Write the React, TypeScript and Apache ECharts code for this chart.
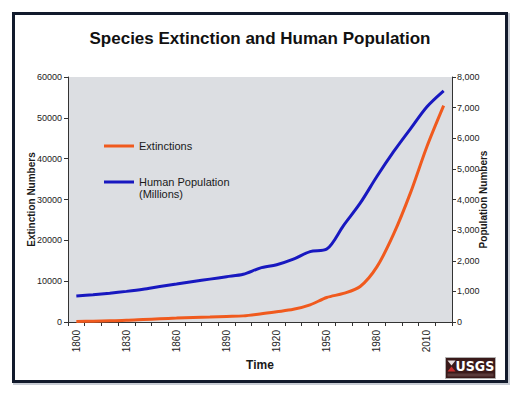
import React, { useEffect, useRef } from "react";
import * as echarts from "echarts";

const years: string[] = [
  "1800", "1810", "1820", "1830", "1840", "1850", "1860", "1870", "1880", "1890",
  "1900", "1910", "1920", "1930", "1940", "1950", "1960", "1970", "1980", "1990",
  "2000", "2010", "2020",
];
const extinctions: number[] = [
  100, 200, 300, 400, 600, 800, 950, 1100, 1200, 1350,
  1500, 1950, 2500, 3100, 4200, 6000, 7000, 8700, 13500, 21500,
  31500, 43000, 53000,
];
const population: number[] = [
  850, 890, 940, 1000, 1070, 1160, 1240, 1320, 1400, 1480,
  1560, 1760, 1870, 2050, 2300, 2380, 3150, 3880, 4750, 5560,
  6300, 7030, 7550,
];

const FONT = "'Liberation Sans', Arial, sans-serif";

export default function App() {
  const ref = useRef<HTMLDivElement>(null);
  useEffect(() => {
    if (!ref.current) return;
    const chart = echarts.init(ref.current, null, { renderer: "svg" });
    chart.setOption({
      animation: false,
      backgroundColor: "#ffffff",
      textStyle: { fontFamily: FONT },
      title: {
        text: "Species Extinction and Human Population",
        left: "center",
        top: 30,
        padding: 0,
        textStyle: { fontSize: 17, fontWeight: "bold", color: "#111111", fontFamily: FONT },
      },
      legend: {
        orient: "vertical",
        left: 104,
        top: 140,
        padding: 0,
        itemWidth: 30,
        itemHeight: 3,
        itemGap: 12,
        icon: "rect",
        formatter: (name: string) =>
          name === "Human Population (Millions)" ? "\nHuman Population\n(Millions)" : name,
        textStyle: { fontSize: 11, lineHeight: 12, color: "#1a1a1a", fontFamily: FONT },
        data: [{ name: "Extinctions" }, { name: "Human Population (Millions)" }],
      },
      grid: { left: 68, right: 68, top: 77, bottom: 77, show: true, backgroundColor: "#dcdee2", borderWidth: 0 },
      xAxis: {
        type: "category",
        data: years,
        boundaryGap: true,
        name: "Time",
        nameLocation: "middle",
        nameGap: 37,
        nameMoveOverlap: false,
        nameTextStyle: { fontSize: 12, fontWeight: "bold", color: "#1a1a1a" },
        axisLine: { lineStyle: { color: "#333333", width: 1 } },
        axisTick: { show: true, interval: 0, length: 4, lineStyle: { color: "#333333" } },
        axisLabel: { interval: 2, rotate: 90, fontSize: 10, color: "#222222", margin: 8 },
        splitLine: { show: false },
      },
      yAxis: [
        {
          type: "value",
          min: 0,
          max: 60000,
          interval: 10000,
          name: "Extinction Numbers",
          nameLocation: "middle",
          nameRotate: 90,
          nameGap: 32,
          nameMoveOverlap: false,
          nameTextStyle: { fontSize: 10, fontWeight: "bold", color: "#1a1a1a" },
          axisLine: { show: true, lineStyle: { color: "#333333" } },
          axisTick: { show: true, length: 4, lineStyle: { color: "#333333" } },
          axisLabel: { fontSize: 9, color: "#222222", margin: 6, formatter: (v: number) => String(v) },
          splitLine: { show: false },
        },
        {
          type: "value",
          min: 0,
          max: 8000,
          interval: 1000,
          position: "right",
          name: "Population Numbers",
          nameLocation: "middle",
          nameRotate: 90,
          nameGap: 26,
          nameMoveOverlap: false,
          nameTextStyle: { fontSize: 10, fontWeight: "bold", color: "#1a1a1a" },
          axisLine: { show: true, lineStyle: { color: "#333333" } },
          axisTick: { show: true, length: 4, lineStyle: { color: "#333333" } },
          axisLabel: {
            fontSize: 9,
            color: "#222222",
            margin: 5,
            formatter: (v: number) => v.toLocaleString("en-US"),
          },
          splitLine: { show: false },
        },
      ],
      series: [
        {
          name: "Extinctions",
          type: "line",
          data: extinctions,
          yAxisIndex: 0,
          smooth: 0.3,
          showSymbol: false,
          color: "#f05a1e",
          lineStyle: { width: 3, color: "#f05a1e" },
        },
        {
          name: "Human Population (Millions)",
          type: "line",
          data: population,
          yAxisIndex: 1,
          smooth: 0.3,
          showSymbol: false,
          color: "#1818c0",
          lineStyle: { width: 3, color: "#1818c0" },
        },
      ],
      graphic: [
        {
          type: "rect",
          shape: { x: 14, y: 14, width: 495, height: 370 },
          style: { fill: "none", stroke: "#c8ccd4", lineWidth: 2 },
          silent: true,
        },
        {
          type: "rect",
          shape: { x: 13.5, y: 13.5, width: 493, height: 368 },
          style: { fill: "none", stroke: "#121a2c", lineWidth: 3 },
          silent: true,
        },
        {
          type: "group",
          left: 445,
          top: 357,
          children: [
            { type: "rect", shape: { x: 0, y: 0, width: 50, height: 21 }, style: { fill: "#3a1a1a", stroke: "#b0b0b0", lineWidth: 1 } },
            { type: "polygon", shape: { points: [[2, 3], [10, 3], [6, 8]] }, style: { fill: "#e8e0e0" } },
            { type: "polygon", shape: { points: [[2, 14], [10, 14], [6, 9]] }, style: { fill: "#c83030" } },
            { type: "text", style: { text: "USGS", x: 10, y: 1.5, fill: "#ffffff", font: "bold 14px 'Liberation Sans Narrow', 'DejaVu Sans Condensed', sans-serif" } },
            { type: "rect", shape: { x: 2, y: 16, width: 46, height: 3 }, style: { fill: "#5a3a3a" } },
          ],
        },
      ],
    });
    return () => chart.dispose();
  }, []);
  return <div ref={ref} style={{ width: 520, height: 399, position: "absolute", left: 0, top: 0 }} />;
}
